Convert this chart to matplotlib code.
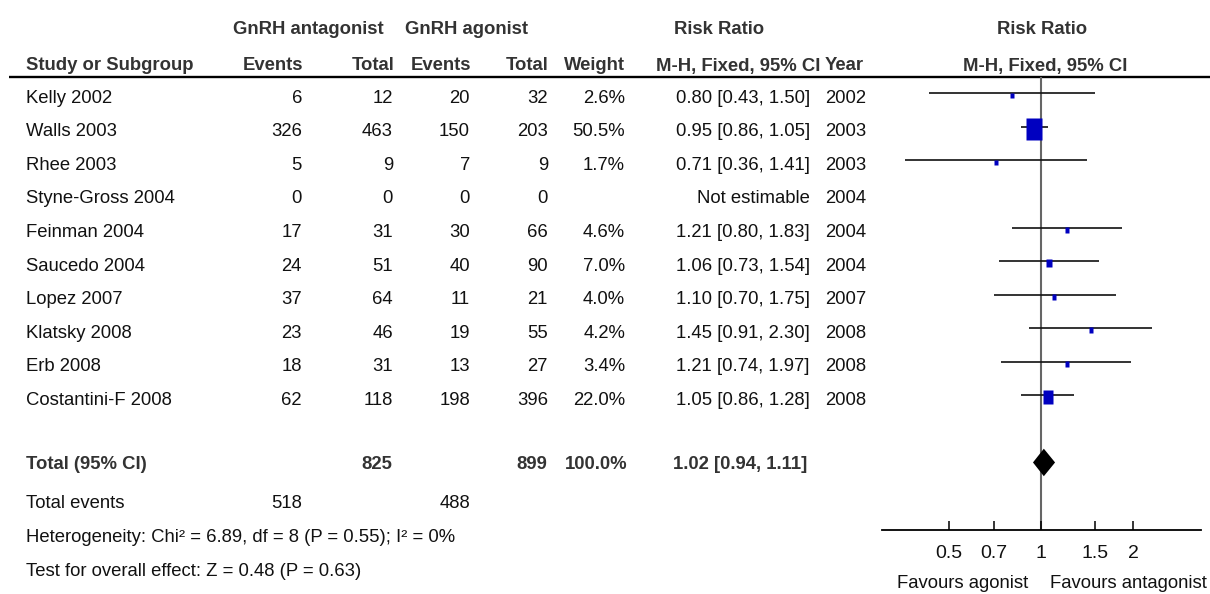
import numpy as np
import matplotlib
matplotlib.use("Agg")
import matplotlib.pyplot as plt

# ---------------- data ----------------
studies = ["Kelly 2002", "Walls 2003", "Rhee 2003", "Styne-Gross 2004", "Feinman 2004",
           "Saucedo 2004", "Lopez 2007", "Klatsky 2008", "Erb 2008", "Costantini-F 2008"]
ant_events = [6, 326, 5, 0, 17, 24, 37, 23, 18, 62]
ant_total = [12, 463, 9, 0, 31, 51, 64, 46, 31, 118]
ago_events = [20, 150, 7, 0, 30, 40, 11, 19, 13, 198]
ago_total = [32, 203, 9, 0, 66, 90, 21, 55, 27, 396]
weights = [2.6, 50.5, 1.7, np.nan, 4.6, 7.0, 4.0, 4.2, 3.4, 22.0]
rr = [0.80, 0.95, 0.71, np.nan, 1.21, 1.06, 1.10, 1.45, 1.21, 1.05]
ci_low = [0.43, 0.86, 0.36, np.nan, 0.80, 0.73, 0.70, 0.91, 0.74, 0.86]
ci_high = [1.50, 1.05, 1.41, np.nan, 1.83, 1.54, 1.75, 2.30, 1.97, 1.28]
years = [2002, 2003, 2003, 2004, 2004, 2004, 2007, 2008, 2008, 2008]
total_ant, total_ago = 825, 899
total_weight = "100.0%"
events_ant, events_ago = 518, 488
pooled = (1.02, 0.94, 1.11)
heterogeneity = "Heterogeneity: Chi² = 6.89, df = 8 (P = 0.55); I² = 0%"
overall = "Test for overall effect: Z = 0.48 (P = 0.63)"
axis_ticks = [0.5, 0.7, 1, 1.5, 2]
axis_ticklabels = ["0.5", "0.7", "1", "1.5", "2"]

# ---------------- style ----------------
FAM = ["Liberation Sans Narrow", "Liberation Sans", "DejaVu Sans"]
FS = 13.3
BODY = "#111111"
HEAD = "#333333"
BLUE = "#0000C0"

W, H = 1210, 594
fig = plt.figure(figsize=(W / 100, H / 100), dpi=100)
ax = fig.add_axes([0, 0, 1, 1])
ax.set_xlim(0, W)
ax.set_ylim(H, 0)
ax.axis("off")


def t(x, y, s, ha="left", bold=False, color=None, size=FS):
    ax.text(x, y, s, ha=ha, va="center", fontsize=size, family=FAM,
            fontweight="bold" if bold else "normal",
            color=color or (HEAD if bold else BODY))


# header
t(233, 30, "GnRH antagonist", bold=True)
t(405, 30, "GnRH agonist", bold=True)
t(719, 30, "Risk Ratio", ha="center", bold=True)
t(1042, 30, "Risk Ratio", ha="center", bold=True)
t(26, 66, "Study or Subgroup", bold=True)
t(303, 66, "Events", ha="right", bold=True)
t(394, 66, "Total", ha="right", bold=True)
t(471, 66, "Events", ha="right", bold=True)
t(548, 66, "Total", ha="right", bold=True)
t(625, 66, "Weight", ha="right", bold=True)
t(820, 66, "M-H, Fixed, 95% CI", ha="right", bold=True)
t(825, 66, "Year", bold=True)
t(1045, 66, "M-H, Fixed, 95% CI", ha="center", bold=True)
ax.plot([9, W], [77, 77], color="black", lw=1.7, solid_capstyle="butt")

ROW0, DY = 93.3, 33.56
for i, name in enumerate(studies):
    y = ROW0 + DY * i + 5
    t(26, y, name)
    t(302, y, str(ant_events[i]), ha="right")
    t(393, y, str(ant_total[i]), ha="right")
    t(470, y, str(ago_events[i]), ha="right")
    t(548, y, str(ago_total[i]), ha="right")
    if np.isnan(rr[i]):
        t(810, y, "Not estimable", ha="right")
    else:
        t(625, y, f"{weights[i]:.1f}%", ha="right")
        t(810, y, f"{rr[i]:.2f} [{ci_low[i]:.2f}, {ci_high[i]:.2f}]", ha="right")
    t(825, y, str(years[i]))

yt = ROW0 + DY * 11 + 2
t(26, yt, "Total (95% CI)", bold=True)
t(392, yt, str(total_ant), ha="right", bold=True)
t(547, yt, str(total_ago), ha="right", bold=True)
t(627, yt, total_weight, ha="right", bold=True)
t(807, yt, f"{pooled[0]:.2f} [{pooled[1]:.2f}, {pooled[2]:.2f}]", ha="right", bold=True)
t(26, 503, "Total events")
t(302, 503, str(events_ant), ha="right")
t(470, 503, str(events_ago), ha="right")
t(26, 538, heterogeneity)
t(26, 572, overall)

t(1028, 583, "Favours agonist", ha="right")
t(1207, 583, "Favours antagonist", ha="right")

# ---------------- forest panel ----------------
x0, x1, ytop, ybot = 881.7, 1200.7, 77, 530
ax2 = fig.add_axes([x0 / W, 1 - ybot / H, (x1 - x0) / W, (ybot - ytop) / H])
ax2.patch.set_alpha(0)
ax2.set_xscale("log")
ax2.set_xlim(np.exp(-1.2), np.exp(1.2))
ax2.set_ylim((ybot - ROW0) / DY, (ytop - ROW0) / DY)
for s in ["top", "left", "right"]:
    ax2.spines[s].set_visible(False)
ax2.spines["bottom"].set_linewidth(1.3)
ax2.spines["bottom"].set_color("black")
ax2.set_yticks([])
ax2.set_xticks(axis_ticks)
ax2.set_xticklabels(axis_ticklabels, family=FAM, fontsize=14, color=BODY)
ax2.xaxis.set_minor_locator(matplotlib.ticker.NullLocator())
ax2.tick_params(axis="x", direction="in", length=6.5, width=1.1, pad=11, colors="black")
for lbl in ax2.get_xticklabels():
    lbl.set_color(BODY)

ax2.axvline(1, color="#666666", lw=1.5, zorder=1)

rows = np.arange(len(studies))
ok = ~np.isnan(np.array(rr))
ax2.hlines(rows[ok], np.array(ci_low)[ok], np.array(ci_high)[ok], color="#111111", lw=1.2, zorder=2)
rect = [(-0.35, -0.5), (0.35, -0.5), (0.35, 0.5), (-0.35, 0.5), (-0.35, -0.5)]
for i in rows[ok]:
    h_px = max(5.0, 3.05 * np.sqrt(weights[i]))
    ax2.plot([rr[i]], [i + 0.06], marker=rect, ms=h_px * 72 / 100, color=BLUE,
             mec="none", linestyle="none", zorder=3)

yd = 11
hh = 0.41
ax2.fill([pooled[1], pooled[0], pooled[2], pooled[0]], [yd, yd - hh, yd, yd + hh],
         color="black", zorder=3, lw=0)

fig.savefig("out.png", dpi=100)
